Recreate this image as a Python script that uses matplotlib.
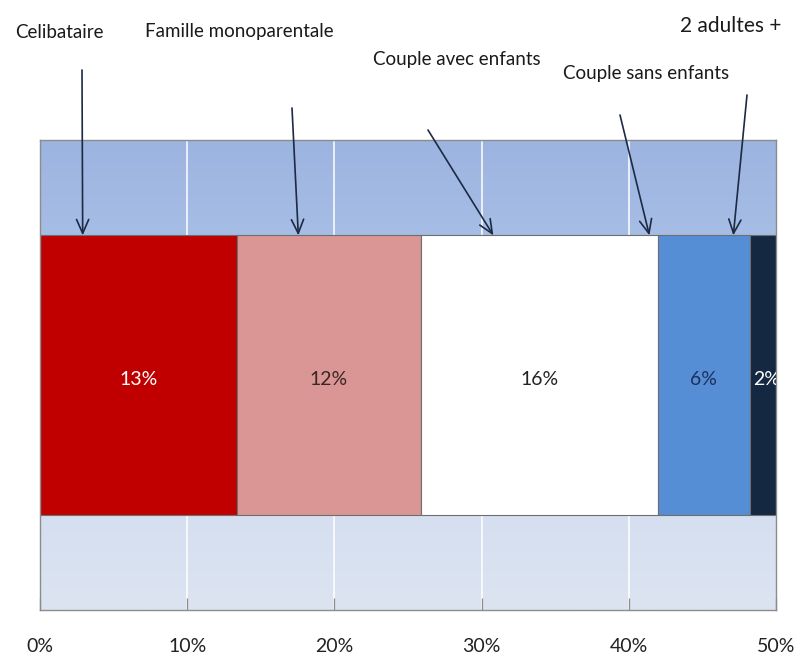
import numpy as np
import matplotlib
matplotlib.use("Agg")
import matplotlib.pyplot as plt
from matplotlib.colors import LinearSegmentedColormap

plt.rcParams['font.family'] = ['Lato', 'DejaVu Sans']

# Household composition shares (%)
categories = ["Celibataire", "Famille monoparentale", "Couple avec enfants",
              "Couple sans enfants", "2 adultes +"]
shares = [13.4, 12.45, 16.15, 6.2, 2.3]
bar_colors = ["#C00000", "#D99694", "#FFFFFF", "#558ED5", "#142841"]
label_colors = ["#FFFFFF", "#3A2626", "#222222", "#1F2F5C", "#FFFFFF"]
tick_values = [0, 10, 20, 30, 40, 50]
tick_labels = ["0%", "10%", "20%", "30%", "40%", "50%"]

W, H = 794, 663
fig = plt.figure(figsize=(W / 100, H / 100), dpi=100)
fig.patch.set_facecolor("white")
ax = fig.add_axes([40 / W, 1 - 610 / H, (776 - 40) / W, (610 - 140) / H])

ax.set_xlim(0, 50)
ax.set_ylim(-0.5, 0.5)

# Vertical gradient background of the plot area
grad_cmap = LinearSegmentedColormap.from_list(
    "bg", [(0.0, "#DCE4F2"), (0.2, "#D5DFEF"), (0.8, "#A6BDE5"), (1.0, "#9CB4E0")])
grad = np.linspace(0, 1, 256).reshape(-1, 1)
ax.imshow(grad, cmap=grad_cmap, origin="lower", aspect="auto",
          extent=(0, 50, -0.5, 0.5), zorder=0)

# White vertical gridlines
for v in tick_values[1:-1]:
    ax.axvline(v, color="white", lw=1.1, zorder=1)

# Stacked single bar
bar_h = 0.594
left = 0.0
for cat, val, col, lcol in zip(categories, shares, bar_colors, label_colors):
    ax.barh(0, val, left=left, height=bar_h, color=col,
            edgecolor="#6E6E6E", linewidth=0.8, zorder=2)
    ax.text(left + val / 2, -0.01, f"{val:.0f}%", ha="center", va="center",
            color=lcol, fontsize=14, zorder=3, clip_on=True)
    left += val

# Axes styling
for s in ax.spines.values():
    s.set_color("#8C8C8C")
    s.set_linewidth(1.0)
ax.set_yticks([])
ax.set_xticks(tick_values)
ax.set_xticklabels(tick_labels, fontsize=14, color="#222222")
ax.tick_params(axis="x", direction="in", length=8.5, width=0.9,
               color="#8C8C8C", pad=20)

# Callout labels with arrows pointing at each segment
bar_top = bar_h / 2
callouts = [
    # text, text left (px), text center y (px), tail (px), head x (%), size
    ("Celibataire", 15, 33, (82, 70), 2.9, 13.5),
    ("Famille monoparentale", 145, 32, (292, 108), 17.55, 13.5),
    ("Couple avec enfants", 373, 59, (428, 130), 30.8, 13.5),
    ("Couple sans enfants", 563, 73, (620, 115), 41.4, 13.5),
    ("2 adultes +", 680, 26, (747, 95), 47.1, 15),
]
for text, tx, ty, tail, hx, fs in callouts:
    fig.text(tx / W, 1 - ty / H, text, ha="left", va="center",
             fontsize=fs, color="#1A1A1A")
    ax.annotate("", xy=(hx, bar_top), xycoords="data",
                xytext=(tail[0], H - tail[1]), textcoords="figure pixels",
                arrowprops=dict(arrowstyle="->,head_length=0.5,head_width=0.22",
                                color="#1C2A44", lw=1.2, mutation_scale=20,
                                shrinkA=0, shrinkB=0),
                annotation_clip=False, zorder=5)

fig.savefig("out.png", dpi=100)
